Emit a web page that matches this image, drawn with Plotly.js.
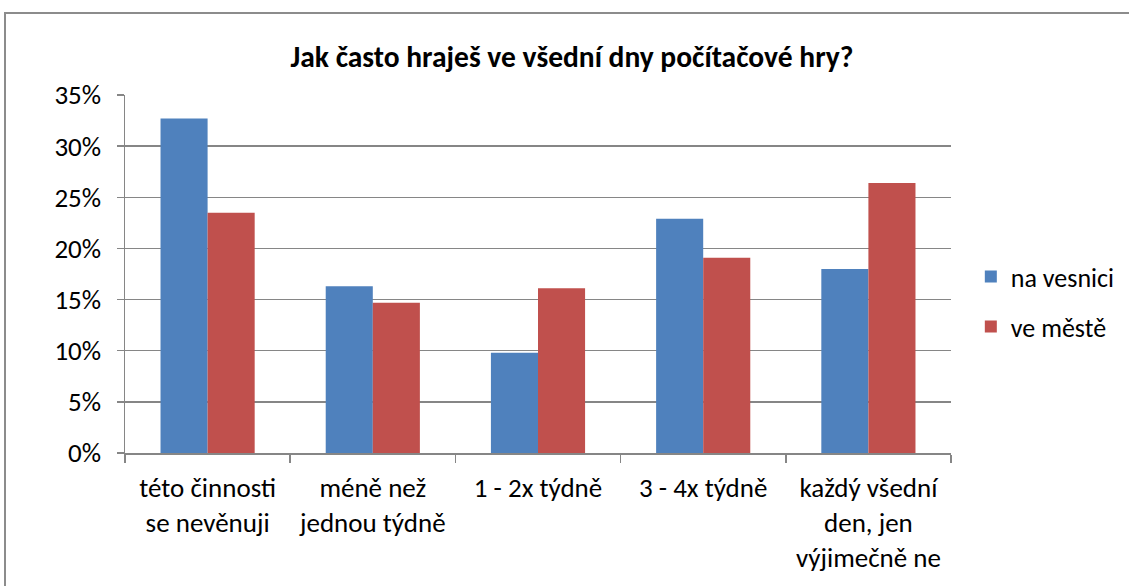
<!DOCTYPE html>
<html>
<head>
<meta charset="utf-8">
<script src="https://cdn.plot.ly/plotly-3.0.1.min.js"></script>
<style>
html,body{margin:0;padding:0;background:#fff;overflow:hidden;}
#frame{position:absolute;left:4px;top:12px;width:1200px;height:700px;border:2px solid #8c8c8c;box-sizing:border-box;}
#chart{position:absolute;left:0;top:0;width:1129px;height:586px;}
</style>
</head>
<body>
<div id="frame"></div>
<div id="chart"></div>
<script>
const categories = [
  "této činnosti<br>se nevěnuji",
  "méně než<br>jednou týdně",
  "1 - 2x týdně",
  "3 - 4x týdně",
  "každý všední<br>den, jen<br>výjimečně ne"
];
const naVesnici = [0.327, 0.163, 0.098, 0.229, 0.180];
const veMeste = [0.235, 0.147, 0.161, 0.191, 0.264];
const seriesNames = ["na vesnici", "ve městě"];
const tickVals = [0, 0.05, 0.10, 0.15, 0.20, 0.25, 0.30, 0.35];
const tickText = ["0%", "5%", "10%", "15%", "20%", "25%", "30%", "35%"];
const titleText = "Jak často hraješ ve všední dny počítačové hry?";

const FONT = "Carlito, Calibri, Lato, sans-serif";

const data = [
  {type: "bar", name: seriesNames[0], x: categories, y: naVesnici, legendgroup: "a",
   marker: {color: "#4F81BD"}, hoverinfo: "y"},
  {type: "bar", name: seriesNames[1], x: categories, y: veMeste, legendgroup: "b",
   marker: {color: "#C0504D"}, hoverinfo: "y"}
];

const layout = {
  width: 1129, height: 586,
  paper_bgcolor: "rgba(0,0,0,0)",
  plot_bgcolor: "rgba(0,0,0,0)",
  margin: {l: 125, r: 178, t: 95, b: 132.5, pad: 0, autoexpand: false},
  font: {family: FONT, size: 27, color: "#000"},
  title: {text: "<b>" + titleText + "</b>", font: {family: FONT, size: 29.5, color: "#000"},
          x: 0.5066, xanchor: "center", y: 0.9027, yanchor: "middle"},
  barmode: "group",
  bargap: 0.43,
  bargroupgap: 0,
  showlegend: true,
  legend: {x: 1.024, xanchor: "left", y: 0.4226, yanchor: "middle",
           font: {family: FONT, size: 26}, tracegroupgap: 13, itemwidth: 30},
  xaxis: {type: "category", tickson: "boundaries", ticks: "outside", ticklen: 8,
          tickcolor: "#868686", tickwidth: 1.5, showline: true, linecolor: "#868686",
          linewidth: 1.5, showgrid: false, tickfont: {family: FONT, size: 27},
          ticklabelstandoff: 10, fixedrange: true},
  yaxis: {range: [0, 0.35], tickvals: tickVals, ticktext: tickText, ticks: "outside",
          ticklen: 7, tickcolor: "#868686", tickwidth: 1.5, showline: true,
          linecolor: "#868686", linewidth: 1.5, showgrid: true, gridcolor: "#868686",
          gridwidth: 1.5, zeroline: false, tickfont: {family: FONT, size: 27},
          ticklabelstandoff: 10, fixedrange: true}
};

Plotly.newPlot("chart", data, layout, {displayModeBar: false, staticPlot: true});
</script>
</body>
</html>
